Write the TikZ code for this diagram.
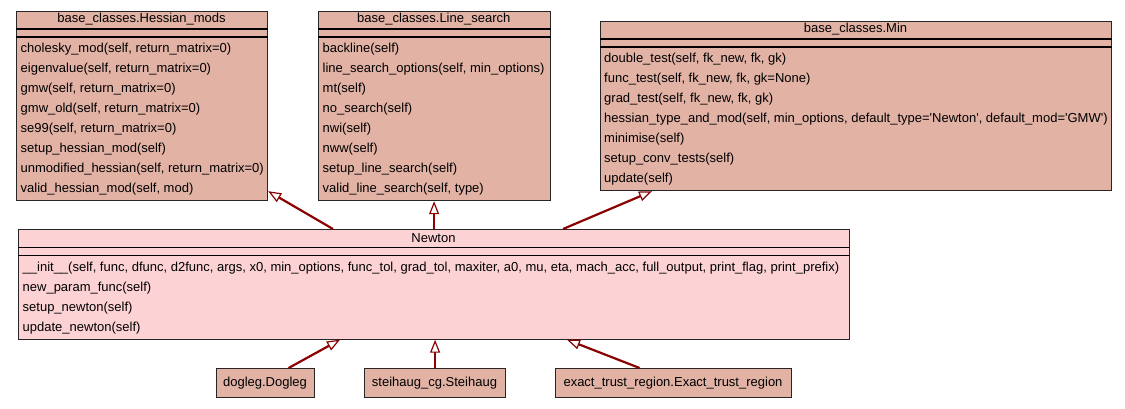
\documentclass[tikz,border=0pt]{standalone}
\usepackage{fontspec}
\setmainfont{Liberation Sans}
\usetikzlibrary{arrows.meta}
\definecolor{clsfill}{RGB}{226,178,165}
\definecolor{mainfill}{RGB}{252,210,213}
\definecolor{arrowred}{RGB}{139,0,0}
\tikzset{
  box/.style={draw=black!85, line width=1.2pt, inner sep=0pt, anchor=north west},
  sepline/.style={draw=black, line width=1.6pt},
  mtext/.style={anchor=base west, inner sep=0pt, font=\fontsize{13}{15}\selectfont},
  ttext/.style={anchor=base, inner sep=0pt, font=\fontsize{13}{15}\selectfont},
  inh/.style={draw=arrowred, line width=2.2pt,
    -{Triangle[length=13pt,width=10pt,line width=1.2pt,fill=white]}}
}
\newcommand\clsseps[1]{%
  \draw[sepline] ([yshift=-18.5pt]#1.north west) -- ([yshift=-18.5pt]#1.north east);
  \draw[sepline] ([yshift=-26.5pt]#1.north west) -- ([yshift=-26.5pt]#1.north east);}
\begin{document}
\begin{tikzpicture}[x=1pt,y=-1pt]
\useasboundingbox[fill=white] (0,0) rectangle (1125,408);

% ---- Hessian_mods
\node[box, fill=clsfill, minimum width=251pt, minimum height=189.5pt] (hess) at (16,10.5) {};
\clsseps{hess}
\node[ttext] (ht) at (141.5,22.5) {base\_classes.Hessian\_mods};
\node[mtext] (h1) at (20.5,52.5) {cholesky\_mod(self, return\_matrix=0)};
\node[mtext] (h2) at (20.5,72.5) {eigenvalue(self, return\_matrix=0)};
\node[mtext] (h3) at (20.5,92.5) {gmw(self, return\_matrix=0)};
\node[mtext] (h4) at (20.5,112.5) {gmw\_old(self, return\_matrix=0)};
\node[mtext] (h5) at (20.5,132.5) {se99(self, return\_matrix=0)};
\node[mtext] (h6) at (20.5,152.5) {setup\_hessian\_mod(self)};
\node[mtext] (h7) at (20.5,172.5) {unmodified\_hessian(self, return\_matrix=0)};
\node[mtext] (h8) at (20.5,192.5) {valid\_hessian\_mod(self, mod)};

% ---- Line_search
\node[box, fill=clsfill, minimum width=231.5pt, minimum height=189.5pt] (ls) at (318,10.5) {};
\clsseps{ls}
\node[ttext] (lt) at (433.75,22.5) {base\_classes.Line\_search};
\node[mtext] (l1) at (322.5,52.5) {backline(self)};
\node[mtext] (l2) at (322.5,72.5) {line\_search\_options(self, min\_options)};
\node[mtext] (l3) at (322.5,92.5) {mt(self)};
\node[mtext] (l4) at (322.5,112.5) {no\_search(self)};
\node[mtext] (l5) at (322.5,132.5) {nwi(self)};
\node[mtext] (l6) at (322.5,152.5) {nww(self)};
\node[mtext] (l7) at (322.5,172.5) {setup\_line\_search(self)};
\node[mtext] (l8) at (322.5,192.5) {valid\_line\_search(self, type)};

% ---- Min
\node[box, fill=clsfill, minimum width=511pt, minimum height=169.5pt] (mn) at (600,20.5) {};
\clsseps{mn}
\node[ttext] (mt) at (855.5,32.5) {base\_classes.Min};
\node[mtext] (m1) at (604,62.5) {double\_test(self, fk\_new, fk, gk)};
\node[mtext] (m2) at (604,82.5) {func\_test(self, fk\_new, fk, gk=None)};
\node[mtext] (m3) at (604,102.5) {grad\_test(self, fk\_new, fk, gk)};
\node[mtext] (m4) at (604,122.5) {hessian\_type\_and\_mod(self, min\_options, default\_type=\textquotesingle Newton\textquotesingle, default\_mod=\textquotesingle GMW\textquotesingle)};
\node[mtext] (m5) at (604,142.5) {minimise(self)};
\node[mtext] (m6) at (604,162.5) {setup\_conv\_tests(self)};
\node[mtext] (m7) at (604,182.5) {update(self)};

% ---- Newton
\node[box, fill=mainfill, minimum width=831pt, minimum height=109.5pt] (newton) at (18,229) {};
\clsseps{newton}
\node[ttext] (nt) at (433.5,242.5) {Newton};
\node[mtext] (n1) at (22.5,271) {\_\_init\_\_(self, func, dfunc, d2func, args, x0, min\_options, func\_tol, grad\_tol, maxiter, a0, mu, eta, mach\_acc, full\_output, print\_flag, print\_prefix)};
\node[mtext] (n2) at (22.5,291) {new\_param\_func(self)};
\node[mtext] (n3) at (22.5,311) {setup\_newton(self)};
\node[mtext] (n4) at (22.5,331) {update\_newton(self)};

% ---- subclasses
\node[box, fill=clsfill, minimum width=98pt, minimum height=29pt] (dog) at (216,368) {};
\node[ttext] (dt) at (265,386.5) {dogleg.Dogleg};
\node[box, fill=clsfill, minimum width=141pt, minimum height=29pt] (st) at (364,368) {};
\node[ttext] (stt) at (434.5,386.5) {steihaug\_cg.Steihaug};
\node[box, fill=clsfill, minimum width=236pt, minimum height=29pt] (ex) at (555,368) {};
\node[ttext] (ext) at (673,386.5) {exact\_trust\_region.Exact\_trust\_region};

% ---- inheritance arrows
\draw[inh] ([xshift=315pt]newton.north west) -- ([yshift=10pt]hess.south east);
\draw[inh] (newton.north) -- (newton.north |- ls.south);
\draw[inh] ([xshift=545pt]newton.north west) -- ([xshift=52pt]mn.south west);
\draw[inh] ([xshift=23pt]dog.north) -- ([xshift=322pt]newton.south west);
\draw[inh] (st.north) -- (st.north |- newton.south);
\draw[inh] ([xshift=-34pt]ex.north) -- ([xshift=549pt]newton.south west);
\end{tikzpicture}
\end{document}
